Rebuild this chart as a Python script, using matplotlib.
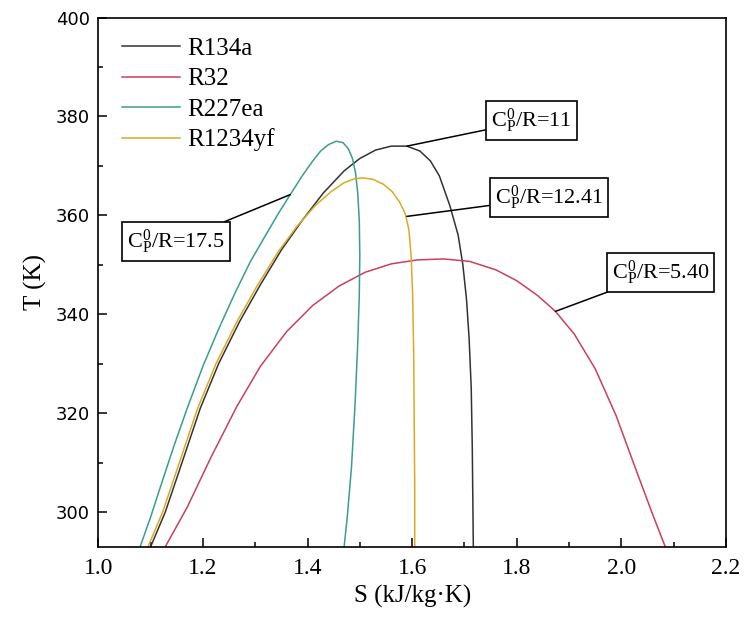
import numpy as np
import matplotlib
matplotlib.use("Agg")
import matplotlib.pyplot as plt
from matplotlib.ticker import MultipleLocator

plt.rcParams['font.family'] = ['Liberation Serif', 'DejaVu Serif']
plt.rcParams['mathtext.fontset'] = 'custom'
plt.rcParams['mathtext.rm'] = 'Liberation Serif'
plt.rcParams['mathtext.it'] = 'Liberation Serif:italic'

# saturation domes: entropy S (kJ/kg.K) and temperature T (K)
s_r134a = [1.100, 1.128, 1.160, 1.195, 1.230, 1.270, 1.310, 1.350, 1.390, 1.430, 1.470, 1.500,
           1.530, 1.560, 1.590, 1.615, 1.635, 1.652, 1.672, 1.688, 1.697, 1.704, 1.709, 1.713,
           1.715, 1.716, 1.717]
t_r134a = [293, 300, 310, 321, 330, 338.5, 346, 353, 359, 364.5, 369, 371.5,
           373.2, 374, 374, 373, 371, 368, 362, 356, 350, 343, 335, 325,
           313, 303, 293]

s_r32 = [1.128, 1.170, 1.215, 1.265, 1.310, 1.360, 1.410, 1.460, 1.510, 1.560, 1.610, 1.660,
         1.710, 1.760, 1.800, 1.840, 1.874, 1.910, 1.950, 1.990, 2.030, 2.060, 2.084]
t_r32 = [293, 301, 311, 321.4, 329.5, 336.5, 341.8, 345.7, 348.5, 350.2, 351, 351.2,
         350.7, 349, 346.8, 343.8, 340.6, 336, 329, 319.5, 308, 299.5, 293]

s_r227ea = [1.080, 1.100, 1.120, 1.145, 1.170, 1.200, 1.230, 1.260, 1.290, 1.320, 1.345, 1.367,
            1.390, 1.410, 1.425, 1.440, 1.455, 1.468, 1.478, 1.486, 1.492, 1.496, 1.499, 1.500,
            1.499, 1.496, 1.491, 1.484, 1.476, 1.470]
t_r227ea = [293, 299, 305.5, 313.5, 321, 329.5, 337, 344, 350.5, 356, 360.5, 364.2,
            368, 371, 373, 374.3, 375, 374.7, 373.5, 371.5, 368.5, 364.5, 359, 352,
            344, 334, 322, 309, 299, 293]

s_r1234yf = [1.095, 1.123, 1.155, 1.190, 1.225, 1.265, 1.305, 1.345, 1.380, 1.415, 1.445, 1.470,
             1.490, 1.505, 1.525, 1.545, 1.562, 1.576, 1.587, 1.594, 1.598, 1.601, 1.603, 1.604,
             1.605, 1.605]
t_r1234yf = [293, 300, 310, 321, 330, 338.5, 346, 352.8, 357.8, 362, 364.8, 366.6,
             367.4, 367.6, 367.3, 366.3, 364.8, 362.7, 360.3, 357, 352, 344, 332, 318,
             305, 293]

names = ['R134a', 'R32', 'R227ea', 'R1234yf']
colors = ['#333333', '#c8405e', '#3a9e8e', '#dcaa22']

# annotation labels, the point on the curve and the box centre
notes = [r'C$_\mathrm{P}^\mathrm{0}$/R=11', r'C$_\mathrm{P}^\mathrm{0}$/R=12.41',
         r'C$_\mathrm{P}^\mathrm{0}$/R=17.5', r'C$_\mathrm{P}^\mathrm{0}$/R=5.40']
note_xy = [(1.59, 374.0), (1.59, 359.8), (1.367, 364.2), (1.874, 340.6)]
note_text = [(1.828, 379.2), (1.862, 363.6), (1.149, 354.7), (2.075, 348.5)]

fig = plt.figure(figsize=(7.5, 6.25), dpi=100)
ax = fig.add_axes([0.131, 0.125, 0.837, 0.847])

curves = [(s_r134a, t_r134a), (s_r32, t_r32), (s_r227ea, t_r227ea), (s_r1234yf, t_r1234yf)]
for (s, t), name, c in zip(curves, names, colors):
    ax.plot(s, t, color=c, lw=1.1, label=name)

for txt, xy, xyt in zip(notes, note_xy, note_text):
    ax.annotate(txt, xy=xy, xytext=xyt, ha='center', va='center', fontsize=16,
                bbox=dict(boxstyle='square,pad=0.22', fc='white', ec='black', lw=1.2),
                arrowprops=dict(arrowstyle='-', color='black', lw=1.1, shrinkA=0, shrinkB=0))

ax.set_xlim(1.0, 2.2)
ax.set_ylim(293, 400)
ax.xaxis.set_major_locator(MultipleLocator(0.2))
ax.xaxis.set_minor_locator(MultipleLocator(0.1))
ax.yaxis.set_major_locator(MultipleLocator(20))
ax.yaxis.set_minor_locator(MultipleLocator(10))
ax.tick_params(which='both', direction='in', top=False, right=False, width=1.1)
ax.tick_params(which='major', length=6.5)
ax.tick_params(which='minor', length=3.5)
ax.tick_params(axis='x', labelsize=17, pad=8)
ax.tick_params(axis='y', labelsize=13, pad=6)
for lab in ax.get_yticklabels():
    lab.set_family('DejaVu Sans')
ax.set_xticklabels(['%.1f' % v for v in ax.get_xticks()])
for sp in ax.spines.values():
    sp.set_linewidth(1.2)

ax.set_xlabel('S (kJ/kg·K)', fontsize=18, labelpad=4)
ax.set_ylabel('T (K)', fontsize=18, labelpad=6)

ax.legend(loc='upper left', frameon=False, fontsize=18, handlelength=2.3,
          handletextpad=0.3, labelspacing=0.31, borderaxespad=0.3,
          bbox_to_anchor=(0.01, 0.995))

fig.savefig('out.png', dpi=100)
